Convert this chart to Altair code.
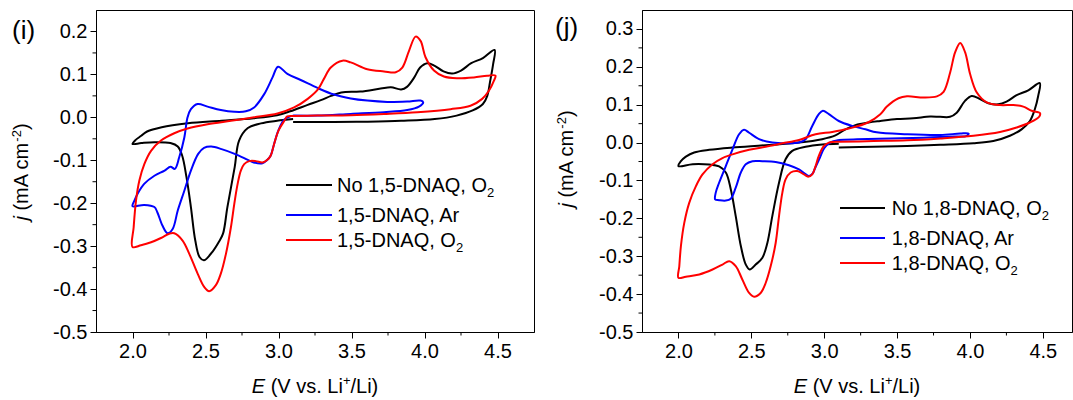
import altair as alt
import pandas as pd

FONT = "Liberation Sans"

# ---------------- panel (i): 1,5-DNAQ ----------------
I_BLACK_E = [3.10, 2.99, 2.88, 2.79, 2.73, 2.70, 2.65, 2.62, 2.59, 2.55, 2.49, 2.46, 2.43, 2.40, 2.37, 2.34, 2.31, 2.26, 2.15, 2.06, 2.00,
             2.02, 2.06, 2.10, 2.20, 2.38, 2.61, 2.83, 2.99, 3.08, 3.20, 3.29, 3.36, 3.43, 3.56, 3.70, 3.77, 3.84, 3.88, 3.93, 3.97, 4.02, 4.07, 4.13, 4.19, 4.25, 4.32, 4.40, 4.48,
             4.47, 4.45, 4.43, 4.40, 4.33, 4.22, 4.07, 3.84, 3.61, 3.38, 3.10]
I_BLACK_J = [-0.004, -0.008, -0.014, -0.025, -0.054, -0.116, -0.209, -0.271, -0.291, -0.312, -0.333, -0.326, -0.287, -0.209, -0.140, -0.089, -0.068, -0.060, -0.058, -0.060, -0.062,
             -0.053, -0.043, -0.033, -0.023, -0.014, -0.008, -0.002, 0.005, 0.014, 0.029, 0.040, 0.050, 0.058, 0.060, 0.067, 0.070, 0.065, 0.071, 0.093, 0.116, 0.126, 0.120, 0.107, 0.102, 0.109, 0.126, 0.138, 0.157,
             0.124, 0.085, 0.050, 0.031, 0.016, 0.004, -0.004, -0.008, -0.010, -0.011, -0.011]

I_BLUE_E = [3.10, 3.04, 3.00, 2.97, 2.945, 2.92, 2.89, 2.83, 2.79, 2.70, 2.61, 2.54, 2.49, 2.45, 2.40, 2.355, 2.31, 2.275, 2.24, 2.205, 2.17, 2.15, 2.08, 2.00,
            2.013, 2.035, 2.08, 2.15, 2.22, 2.26, 2.29, 2.32, 2.355, 2.377, 2.40, 2.446, 2.514, 2.605, 2.697, 2.776, 2.833, 2.902, 2.959, 2.997,
            3.061, 3.152, 3.27, 3.381, 3.495, 3.608, 3.745, 3.882, 3.973, 3.991,
            3.962, 3.882, 3.723, 3.495, 3.267, 3.10]
I_BLUE_J = [0.004, -0.005, -0.030, -0.062, -0.090, -0.100, -0.107, -0.105, -0.099, -0.085, -0.074, -0.068, -0.071, -0.085, -0.124, -0.171, -0.217, -0.260, -0.270, -0.252, -0.221, -0.209, -0.204, -0.207,
            -0.194, -0.178, -0.155, -0.136, -0.124, -0.115, -0.120, -0.093, -0.047, 0.000, 0.019, 0.031, 0.025, 0.017, 0.013, 0.014, 0.023, 0.054, 0.093, 0.118,
            0.101, 0.087, 0.068, 0.053, 0.044, 0.039, 0.036, 0.037, 0.039, 0.035,
            0.025, 0.017, 0.012, 0.008, 0.004, 0.004]

I_RED_E = [3.10, 3.06, 3.04, 3.00, 2.97, 2.947, 2.924, 2.89, 2.845, 2.80, 2.765, 2.742, 2.72, 2.697, 2.674, 2.64, 2.605, 2.571, 2.525, 2.491,
           2.446, 2.389, 2.343, 2.286, 2.252, 2.195, 2.127, 2.058, 2.00,
           2.008, 2.024, 2.047, 2.081, 2.127, 2.195, 2.286, 2.377, 2.514, 2.674, 2.833, 2.993, 3.107, 3.20, 3.27, 3.31, 3.358, 3.438, 3.495, 3.608,
           3.723, 3.803, 3.848, 3.894, 3.939, 3.973, 4.007, 4.065, 4.133, 4.224, 4.338, 4.429, 4.486,
           4.475, 4.441, 4.395, 4.315, 4.179, 3.951, 3.723, 3.495, 3.267, 3.10]
I_RED_J = [0.003, 0.002, -0.008, -0.031, -0.062, -0.089, -0.099, -0.105, -0.102, -0.102, -0.109, -0.124, -0.155, -0.202, -0.256, -0.318, -0.364, -0.391, -0.405, -0.395,
           -0.364, -0.318, -0.287, -0.270, -0.271, -0.281, -0.291, -0.298, -0.302,
           -0.256, -0.194, -0.147, -0.109, -0.078, -0.054, -0.037, -0.026, -0.016, -0.008, 0.000, 0.009, 0.023, 0.043, 0.065, 0.089, 0.116, 0.132, 0.128, 0.112,
           0.107, 0.105, 0.116, 0.155, 0.188, 0.178, 0.140, 0.109, 0.095, 0.091, 0.093, 0.097, 0.097,
           0.085, 0.062, 0.043, 0.027, 0.019, 0.012, 0.008, 0.005, 0.004, 0.003]

# ---------------- panel (j): 1,8-DNAQ ----------------
J_BLACK_E = [3.10, 2.986, 2.872, 2.781, 2.735, 2.690, 2.644, 2.610, 2.576, 2.530, 2.489, 2.462, 2.428, 2.393, 2.359, 2.325, 2.279, 2.211, 2.097, 2.00,
             2.017, 2.051, 2.108, 2.211, 2.371, 2.599, 2.827, 2.986, 3.077, 3.146, 3.214, 3.305, 3.385, 3.499, 3.611, 3.727, 3.795, 3.863, 3.909, 3.966,
             4.012, 4.069, 4.126, 4.194, 4.251, 4.320, 4.400, 4.479,
             4.468, 4.445, 4.411, 4.354, 4.274, 4.160, 4.024, 3.796, 3.568, 3.339, 3.10]
J_BLACK_J = [-0.003, -0.005, -0.011, -0.022, -0.044, -0.106, -0.194, -0.265, -0.304, -0.322, -0.335, -0.322, -0.273, -0.194, -0.123, -0.079, -0.063, -0.058, -0.057, -0.062,
             -0.049, -0.037, -0.026, -0.019, -0.013, -0.007, 0.000, 0.009, 0.019, 0.035, 0.046, 0.053, 0.057, 0.062, 0.064, 0.069, 0.068, 0.068, 0.079, 0.110,
             0.123, 0.115, 0.104, 0.101, 0.108, 0.125, 0.138, 0.157,
             0.123, 0.088, 0.057, 0.035, 0.018, 0.004, -0.002, -0.006, -0.009, -0.011, -0.013]

J_BLUE_E = [3.10, 3.04, 3.00, 2.97, 2.94, 2.92, 2.895, 2.827, 2.758, 2.667, 2.576, 2.508, 2.462, 2.428, 2.393, 2.359, 2.325, 2.279, 2.252,
            2.256, 2.279, 2.325, 2.371, 2.416, 2.450, 2.485, 2.553, 2.644, 2.735, 2.827, 2.872, 2.918, 2.963, 2.991, 3.032, 3.100, 3.191, 3.283, 3.36,
            3.568, 3.796, 3.933, 3.99,
            3.979, 3.888, 3.682, 3.454, 3.225, 3.10]
J_BLUE_J = [0.007, 0.000, -0.015, -0.040, -0.065, -0.082, -0.088, -0.071, -0.060, -0.051, -0.049, -0.049, -0.057, -0.079, -0.119, -0.148, -0.153, -0.152, -0.150,
            -0.132, -0.106, -0.062, -0.018, 0.022, 0.034, 0.026, 0.009, 0.000, -0.002, 0.000, 0.009, 0.044, 0.075, 0.084, 0.075, 0.057, 0.044, 0.035, 0.027,
            0.022, 0.020, 0.024, 0.024,
            0.018, 0.016, 0.013, 0.011, 0.009, 0.007]

J_RED_E = [3.10, 3.032, 2.998, 2.963, 2.941, 2.918, 2.890, 2.861, 2.815, 2.770, 2.735, 2.713, 2.690, 2.667, 2.633, 2.599, 2.564, 2.519, 2.485, 2.439,
           2.393, 2.348, 2.302, 2.234, 2.143, 2.051, 2.00,
           2.006, 2.017, 2.040, 2.074, 2.120, 2.165, 2.234, 2.302, 2.371, 2.485, 2.599, 2.713, 2.827, 2.941, 3.055, 3.169, 3.30, 3.385, 3.430, 3.510,
           3.568, 3.682, 3.773, 3.819, 3.864, 3.898, 3.933, 3.967, 4.001, 4.047, 4.115, 4.206, 4.297, 4.366, 4.423, 4.480,
           4.476, 4.411, 4.320, 4.206, 4.024, 3.796, 3.568, 3.339, 3.10]
J_RED_J = [0.002, 0.000, -0.009, -0.035, -0.062, -0.084, -0.090, -0.084, -0.075, -0.079, -0.097, -0.132, -0.194, -0.265, -0.326, -0.370, -0.397, -0.407, -0.397, -0.362,
           -0.326, -0.313, -0.322, -0.335, -0.348, -0.354, -0.357,
           -0.326, -0.273, -0.212, -0.159, -0.115, -0.084, -0.057, -0.041, -0.031, -0.019, -0.011, -0.002, 0.007, 0.022, 0.028, 0.037, 0.053, 0.075, 0.095, 0.117,
           0.122, 0.119, 0.122, 0.134, 0.185, 0.238, 0.263, 0.238, 0.181, 0.132, 0.106, 0.099, 0.099, 0.095, 0.084, 0.078,
           0.069, 0.053, 0.040, 0.028, 0.018, 0.011, 0.006, 0.004, 0.002]

# ---------------- ticks, labels ----------------
X_TICKS = [2.0, 2.5, 3.0, 3.5, 4.0, 4.5]
X_MINOR = [2.25, 2.75, 3.25, 3.75, 4.25]
I_Y_TICKS = [-0.5, -0.4, -0.3, -0.2, -0.1, 0.0, 0.1, 0.2]
I_Y_MINOR = [-0.45, -0.35, -0.25, -0.15, -0.05, 0.05, 0.15]
J_Y_TICKS = [-0.5, -0.4, -0.3, -0.2, -0.1, 0.0, 0.1, 0.2, 0.3]
J_Y_MINOR = [-0.45, -0.35, -0.25, -0.15, -0.05, 0.05, 0.15, 0.25]
I_LEGEND = ["No 1,5-DNAQ, O2", "1,5-DNAQ, Ar", "1,5-DNAQ, O2"]
J_LEGEND = ["No 1,8-DNAQ, O2", "1,8-DNAQ, Ar", "1,8-DNAQ, O2"]
COLORS = ["#000000", "#0000ff", "#ff0000"]

# Arial / Liberation Sans advance widths (per 1000 em)
ARIAL = {' ': 278, '(': 333, ')': 333, ',': 278, '-': 333, '.': 278, '/': 278, '+': 584,
         'A': 667, 'D': 722, 'E': 667, 'L': 556, 'N': 722, 'O': 778, 'Q': 778, 'V': 667,
         'a': 556, 'c': 500, 'i': 222, 'j': 222, 'm': 833, 'o': 556, 'r': 333, 's': 500, 'v': 500}


def tw(s, size):
    return sum(ARIAL.get(c, 556) for c in s) * size / 1000.0


def txt(s, x, y, size=20, angle=0, italic=False, align="left"):
    kw = dict(align=align, baseline="alphabetic", font=FONT, fontSize=size, color="black")
    if angle:
        kw["angle"] = angle
    if italic:
        kw["fontStyle"] = "italic"
    return alt.Chart(pd.DataFrame({"t": [s]})).mark_text(**kw).encode(
        text="t:N", x=alt.value(x), y=alt.value(y))


def panel(curves, xmax, ydom, yticks, yminor, W, H, tag, tag_xy, legend, leg_x, leg_rows,
          ytitle_x, ytitle_c, anchor=False):
    xs = alt.Scale(domain=[1.75, xmax], nice=False, zero=False)
    ys = alt.Scale(domain=ydom, nice=False, zero=False)
    common = dict(grid=False, title=None, labelFont=FONT, labelFontSize=20, labelColor="black",
                  tickColor="black", domainColor="black", tickSize=6, tickWidth=1, domainWidth=1,
                  labelFlush=False, labelOverlap=False)
    xaxis = alt.Axis(values=X_TICKS, format=".1f", labelPadding=3, **common)
    yaxis = alt.Axis(values=yticks, labelPadding=3,
                     labelExpr="(datum.value < -0.0001 ? '-' : '') + format(abs(datum.value), '.1f')",
                     **common)
    layers = []
    for i, (E, J) in enumerate(curves):
        df = pd.DataFrame({"E": E, "j": J, "k": list(range(len(E)))})
        layers.append(
            alt.Chart(df).mark_line(color=COLORS[i], strokeWidth=2, interpolate="catmull-rom").encode(
                x=alt.X("E:Q", scale=xs, axis=xaxis),
                y=alt.Y("j:Q", scale=ys, axis=yaxis),
                order=alt.Order("k:Q"))
        )
    # minor ticks
    layers.append(alt.Chart(pd.DataFrame({"E": X_MINOR})).mark_rule(color="black", strokeWidth=1).encode(
        x=alt.X("E:Q", scale=xs, axis=xaxis), y=alt.value(H), y2=alt.value(H + 3.5)))
    layers.append(alt.Chart(pd.DataFrame({"j": yminor})).mark_rule(color="black", strokeWidth=1).encode(
        y=alt.Y("j:Q", scale=ys, axis=yaxis), x=alt.value(0), x2=alt.value(-3.5)))
    # legend
    for i, lab in enumerate(legend):
        yy = leg_rows[i]
        layers.append(alt.Chart(pd.DataFrame({"t": [lab]})).mark_rule(color=COLORS[i], strokeWidth=2).encode(
            x=alt.value(leg_x[0]), x2=alt.value(leg_x[1]), y=alt.value(yy)))
        if lab.endswith("O2"):
            base = lab[:-1]
            layers.append(txt(base, leg_x[2], yy + 7))
            layers.append(txt("2", leg_x[2] + tw(base, 20), yy + 12, size=13))
        else:
            layers.append(txt(lab, leg_x[2], yy + 7))
    # y title (rotated): "j (mA cm-2)"  -- (text, size, italic, superscript shift, gap before)
    parts = [("j", 20, True, 0, 0), ("(mA cm", 20, False, 0, tw(" ", 20)), ("-2", 13, False, 7, 0), (")", 20, False, 0, 0)]
    total = sum(tw(p[0], p[1]) + p[4] for p in parts)
    s = ytitle_c + total / 2.0
    for p, size, it, up, gap in parts:
        s -= gap
        layers.append(txt(p, ytitle_x - up, s, size=size, angle=270, italic=it))
        s -= tw(p, size)
    # x title: "E (V vs. Li+/Li)"
    xparts = [("E", 20, True, 0, 0), ("(V vs. Li", 20, False, 0, tw(" ", 20)), ("+", 13, False, 8, 0), ("/Li)", 20, False, 0, 0)]
    total = sum(tw(p[0], p[1]) + p[4] for p in xparts)
    xx = W / 2.0 - total / 2.0
    for p, size, it, up, gap in xparts:
        xx += gap
        layers.append(txt(p, xx, H + 61 - up, size=size, italic=it))
        xx += tw(p, size)
    # panel tag
    layers.append(txt(tag, tag_xy[0], tag_xy[1], size=26))
    if anchor:
        layers.append(alt.Chart(pd.DataFrame({"t": [0]})).mark_rule(opacity=0, strokeWidth=1).encode(
            x=alt.value(-95.5), x2=alt.value(-95.5), y=alt.value(-9.5), y2=alt.value(-9.5)))
    return alt.layer(*layers).properties(width=W, height=H)


H = 322
left = panel([(I_BLACK_E, I_BLACK_J), (I_BLUE_E, I_BLUE_J), (I_RED_E, I_RED_J)],
             4.75, [-0.5, 0.25], I_Y_TICKS, I_Y_MINOR, 438, H, "(i)", (-84, 29),
             I_LEGEND, (190, 236, 241), [175, 205, 230], -68.5, 162, anchor=True)
right = panel([(J_BLACK_E, J_BLACK_J), (J_BLUE_E, J_BLUE_J), (J_RED_E, J_RED_J)],
              4.70, [-0.5, 0.35], J_Y_TICKS, J_Y_MINOR, 430, H, "(j)", (-87, 26),
              J_LEGEND, (198, 243, 249.7), [198, 228, 253], -69, 149)

chart = alt.hconcat(left, right, spacing=108, bounds="flush").properties(
    padding=0, background="white"
).configure_view(stroke="black", strokeWidth=1)

chart.save("out.html", embed_options={"renderer": "svg", "actions": False})
